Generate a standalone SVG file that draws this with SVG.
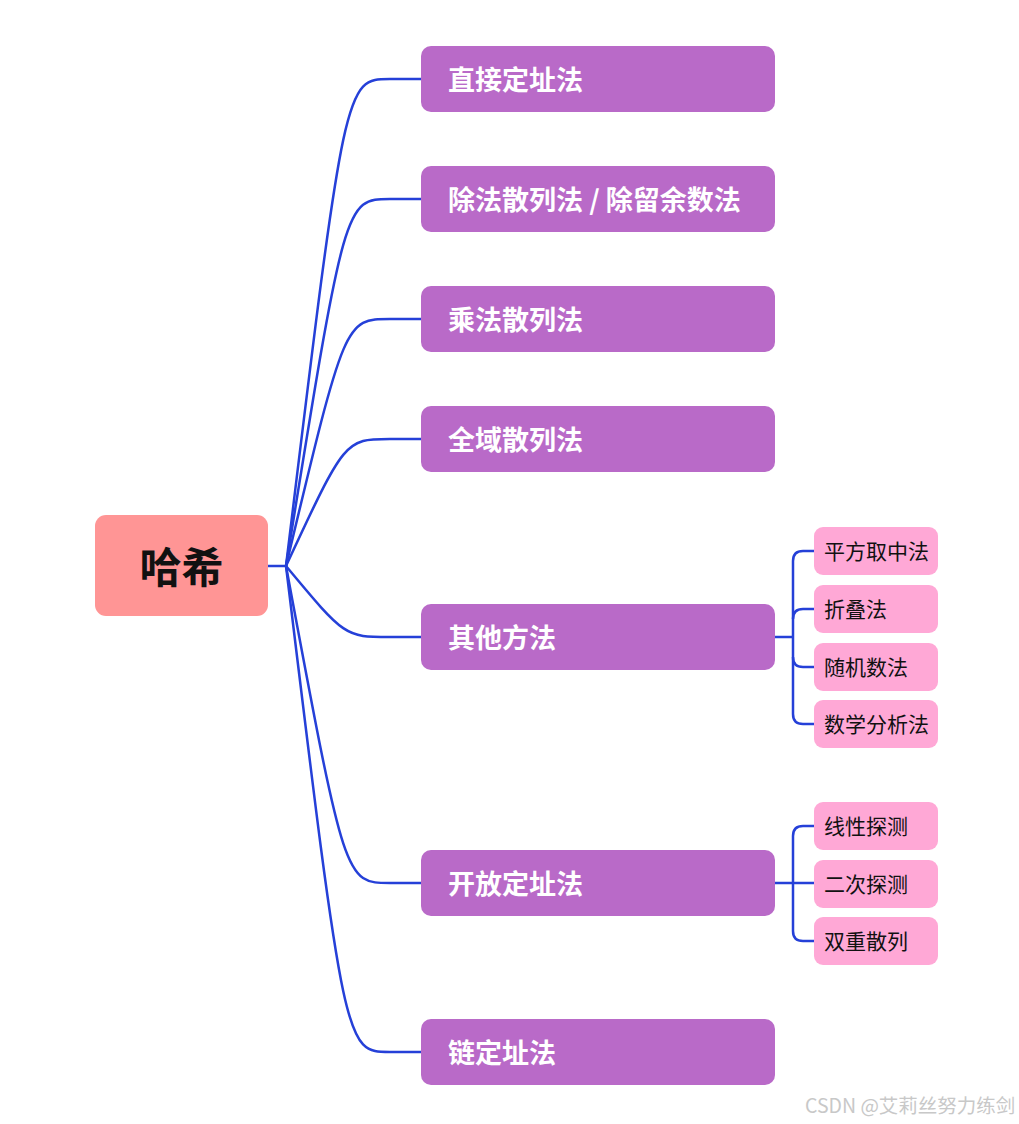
<svg xmlns="http://www.w3.org/2000/svg" width="1019" height="1124" viewBox="0 0 1019 1124">
<style>
.main{fill:#B96AC8}
.sub{fill:#FFA8D6}
.mt{font-family:"Noto Sans CJK SC","Noto Sans",sans-serif;font-weight:bold;font-size:27px;fill:#ffffff}
.st{font-family:"Noto Sans CJK SC","Noto Sans",sans-serif;font-size:21px;fill:#111111}
.ln{fill:none;stroke:#2540D8;stroke-width:2.5}
</style>
<rect width="1019" height="1124" fill="#ffffff"/>
<g id="connectors">
<path class="ln" d="M268,566 L286,566"/>
<path class="ln" d="M286,566 C345,79 345,79 390,79 L421,79"/>
<path class="ln" d="M286,566 C345,199 345,199 390,199 L421,199"/>
<path class="ln" d="M286,566 C345,319 345,319 390,319 L421,319"/>
<path class="ln" d="M286,566 C345,439 345,439 390,439 L421,439"/>
<path class="ln" d="M286,566 C345,637 345,637 390,637 L421,637"/>
<path class="ln" d="M286,566 C345,883 345,883 390,883 L421,883"/>
<path class="ln" d="M286,566 C345,1052 345,1052 390,1052 L421,1052"/>
<path class="ln" d="M775,637 L793,637"/>
<path class="ln" d="M814,551 L803,551 Q793,551 793,561 L793,714 Q793,724 803,724 L814,724"/>
<path class="ln" d="M814,609 L803,609 Q793,609 793,619"/>
<path class="ln" d="M814,667 L803,667 Q793,667 793,657"/>
<path class="ln" d="M775,883 L814,883"/>
<path class="ln" d="M814,826 L803,826 Q793,826 793,836 L793,931 Q793,941 803,941 L814,941"/>
</g>
<g id="root">
<rect x="95" y="515" width="173" height="101" rx="11" fill="#FF9595"/>
<text x="181.5" y="583" text-anchor="middle" font-family="Noto Sans CJK SC,sans-serif" font-weight="bold" font-size="42" fill="#111111">哈希</text>
</g>
<g id="n1"><rect class="main" x="421" y="46" width="354" height="66" rx="10"/><text class="mt" x="448" y="90">直接定址法</text></g>
<g id="n2"><rect class="main" x="421" y="166" width="354" height="66" rx="10"/><text class="mt" x="448" y="210">除法散列法 / 除留余数法</text></g>
<g id="n3"><rect class="main" x="421" y="286" width="354" height="66" rx="10"/><text class="mt" x="448" y="330">乘法散列法</text></g>
<g id="n4"><rect class="main" x="421" y="406" width="354" height="66" rx="10"/><text class="mt" x="448" y="450">全域散列法</text></g>
<g id="n5"><rect class="main" x="421" y="604" width="354" height="66" rx="10"/><text class="mt" x="448" y="648">其他方法</text></g>
<g id="n6"><rect class="main" x="421" y="850" width="354" height="66" rx="10"/><text class="mt" x="448" y="894">开放定址法</text></g>
<g id="n7"><rect class="main" x="421" y="1019" width="354" height="66" rx="10"/><text class="mt" x="448" y="1063">链定址法</text></g>
<g id="s1"><rect class="sub" x="814" y="527" width="124" height="48" rx="9"/><text class="st" x="824" y="559">平方取中法</text></g>
<g id="s2"><rect class="sub" x="814" y="585" width="124" height="48" rx="9"/><text class="st" x="824" y="617">折叠法</text></g>
<g id="s3"><rect class="sub" x="814" y="643" width="124" height="48" rx="9"/><text class="st" x="824" y="675">随机数法</text></g>
<g id="s4"><rect class="sub" x="814" y="700" width="124" height="48" rx="9"/><text class="st" x="824" y="732">数学分析法</text></g>
<g id="s5"><rect class="sub" x="814" y="802" width="124" height="48" rx="9"/><text class="st" x="824" y="834">线性探测</text></g>
<g id="s6"><rect class="sub" x="814" y="860" width="124" height="48" rx="9"/><text class="st" x="824" y="892">二次探测</text></g>
<g id="s7"><rect class="sub" x="814" y="917" width="124" height="48" rx="9"/><text class="st" x="824" y="949">双重散列</text></g>
<text x="805" y="1113" font-family="Noto Sans CJK SC,sans-serif" font-size="19.5" fill="#c8c8c8">CSDN @艾莉丝努力练剑</text>
</svg>
